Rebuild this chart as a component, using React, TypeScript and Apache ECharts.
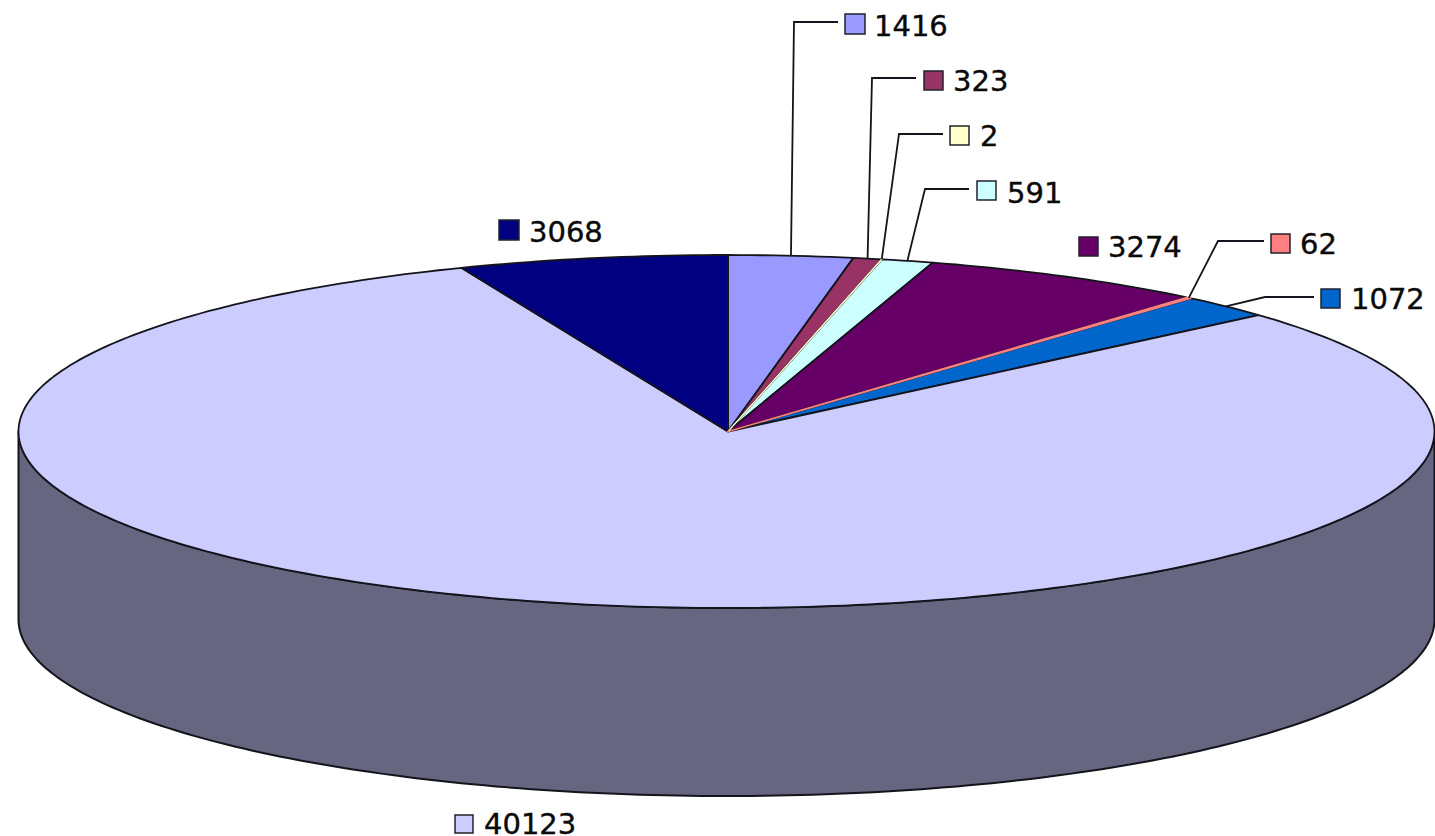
import React, { useEffect, useRef } from "react";
import * as echarts from "echarts";

const categories = ["A", "B", "C", "D", "E", "F", "G", "H", "I"];
const values = [1416, 323, 2, 591, 3274, 62, 1072, 40123, 3068];
const colors = ["#9999ff", "#993366", "#ffffcc", "#ccffff", "#660066", "#ff8080", "#0066cc", "#ccccff", "#000080"];

// label layout, separate from the data: swatch left, swatch top, swatch size, text x, text middle y
const labelBoxes = [
  [845, 14, 20, 874, 26],
  [924, 71, 19, 953, 81],
  [950, 126, 19, 980, 136],
  [977, 181, 19, 1007, 193],
  [1079, 237, 19, 1108, 247],
  [1271, 234, 19, 1300, 244],
  [1321, 289, 19, 1351, 299],
  [455, 815, 18, 484, 824],
  [499, 220, 20, 529, 232],
];
// leader elbow and end, null when a label has no leader
const leaders: (number[] | null)[] = [
  [794, 22, 838, 22],
  [872, 78, 916, 78],
  [899, 134, 943, 134],
  [925, 189, 969, 189],
  null,
  [1218, 241, 1264, 241],
  [1265, 297, 1314, 297],
  null,
  null,
];

const CX = 726.5;
const CY = 431.5;
const RX = 708;
const RY = 176.5;
const APEX_X = 728;
const START = 0.0021;
const DEPTH = 188;
const TWO_PI = Math.PI * 2;
const THIN = 0.02; // slices narrower than this (radians) are outlined in their own colour
const total = values.reduce((a, b) => a + b, 0);
const FONT = "'DejaVu Sans', Verdana, sans-serif";
const INK = "#14141c";

const at = (t: number, dy = 0): number[] => [CX + RX * Math.sin(t), CY - RY * Math.cos(t) + dy];

const arc = (a: number, b: number, dy = 0): number[][] => {
  const n = Math.max(2, Math.ceil(((b - a) / TWO_PI) * 360));
  const pts: number[][] = [];
  for (let i = 0; i <= n; i++) pts.push(at(a + ((b - a) * i) / n, dy));
  return pts;
};

const shade = (hex: string): string => {
  const v = parseInt(hex.slice(1), 16);
  const c = [(v >> 16) & 255, (v >> 8) & 255, v & 255].map((x) => Math.round(x / 2));
  return `rgb(${c[0]},${c[1]},${c[2]})`;
};

let running = 0;
const rows = values.map((v, i) => {
  const start = START + (running / total) * TWO_PI;
  running += v;
  return { value: [v, start, START + (running / total) * TWO_PI], name: categories[i] };
});

export default function App() {
  const ref = useRef<HTMLDivElement>(null);

  useEffect(() => {
    document.body.style.margin = "0";
    const chart = echarts.init(ref.current!, undefined, { renderer: "svg" });

    const wallItem = (params: any, api: any) => {
      const a = Math.max(api.value(1), Math.PI / 2);
      const b = Math.min(api.value(2), Math.PI * 1.5);
      if (b <= a) return { type: "group", children: [] };
      const points = [...arc(a, b), ...arc(a, b, DEPTH).reverse()];
      return {
        type: "polygon",
        shape: { points },
        style: { fill: shade(colors[params.dataIndex]), stroke: INK, lineWidth: 2, lineJoin: "round" },
      };
    };

    const topItem = (params: any, api: any) => {
      const i = params.dataIndex;
      const a = api.value(1);
      const b = api.value(2);
      const thin = b - a < THIN;
      return {
        type: "polygon",
        z2: thin ? 5 : 1,
        shape: { points: [[APEX_X, CY], ...arc(a, b)] },
        style: {
          fill: colors[i],
          stroke: thin ? colors[i] : INK,
          lineWidth: thin ? 1.4 : 1.8,
          lineJoin: "round",
        },
      };
    };

    const labelItem = (params: any, api: any) => {
      const i = params.dataIndex;
      const [sx, sy, size, tx, ty] = labelBoxes[i];
      const children: any[] = [];
      const lead = leaders[i];
      if (lead) {
        const start = at((api.value(1) + api.value(2)) / 2);
        children.push({
          type: "polyline",
          shape: { points: [start, [lead[0], lead[1]], [lead[2], lead[3]]] },
          style: { fill: "none", stroke: INK, lineWidth: 1.8 },
        });
      }
      children.push({
        type: "rect",
        shape: { x: sx, y: sy, width: size, height: size },
        style: { fill: colors[i], stroke: "#22222c", lineWidth: 1.5 },
      });
      children.push({
        type: "text",
        style: {
          text: String(api.value(0)),
          x: tx,
          y: ty,
          fill: "#0a0a0a",
          stroke: "#0a0a0a",
          lineWidth: 0.4,
          fontFamily: FONT,
          fontSize: 29,
          verticalAlign: "middle",
          align: "left",
        },
      });
      return { type: "group", children };
    };

    const base = { type: "custom", coordinateSystem: "none", silent: true, clip: false, data: rows };

    chart.setOption({
      animation: false,
      backgroundColor: "#ffffff",
      tooltip: { show: false },
      series: [
        { ...base, name: "wall", z: 1, renderItem: wallItem },
        { ...base, name: "top", z: 2, renderItem: topItem },
        { ...base, name: "labels", z: 3, renderItem: labelItem },
      ],
    });

    return () => chart.dispose();
  }, []);

  return <div ref={ref} style={{ width: 1435, height: 836 }} />;
}
